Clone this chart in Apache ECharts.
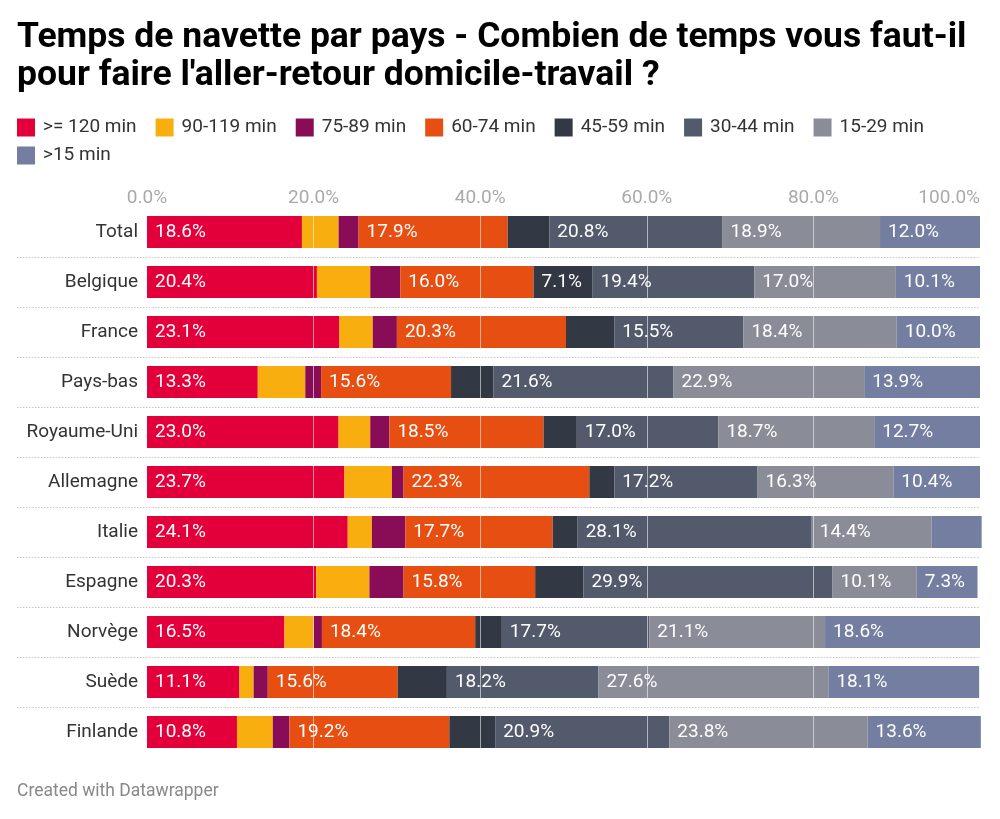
<!DOCTYPE html>
<html>
<head>
<meta charset="utf-8">
<script src="https://cdn.jsdelivr.net/npm/echarts@6.0.0/dist/echarts.min.js"></script>
<style>
html,body{margin:0;padding:0;background:#fff;}
#chart{width:1000px;height:819px;}
</style>
</head>
<body>
<div id="chart"></div>
<script>
const categories = ['Total','Belgique','France','Pays-bas','Royaume-Uni','Allemagne','Italie','Espagne','Norvège','Suède','Finlande'];
const seriesNames = ['>= 120 min','90-119 min','75-89 min','60-74 min','45-59 min','30-44 min','15-29 min','>15 min'];
const s120 = [18.6,20.4,23.1,13.3,23.0,23.7,24.1,20.3,16.5,11.1,10.8];
const s90  = [4.4,6.4,4.0,5.7,3.8,5.7,2.9,6.4,3.5,1.7,4.3];
const s75  = [2.4,3.6,2.9,1.9,2.3,1.4,4.0,4.1,1.0,1.7,2.0];
const s60  = [17.9,16.0,20.3,15.6,18.5,22.3,17.7,15.8,18.4,15.6,19.2];
const s45  = [5.0,7.1,5.8,5.1,4.0,3.0,3.0,5.8,3.2,5.9,5.5];
const s30  = [20.8,19.4,15.5,21.6,17.0,17.2,28.1,29.9,17.7,18.2,20.9];
const s15  = [18.9,17.0,18.4,22.9,18.7,16.3,14.4,10.1,21.1,27.6,23.8];
const sLt15 = [12.0,10.1,10.0,13.9,12.7,10.4,6.0,7.3,18.6,18.1,13.6];
const tickValues = [0,20,40,60,80,100];

const allData = [s120,s90,s75,s60,s45,s30,s15,sLt15];
const colors = ['#E3003A','#F9AE0F','#890C57','#E74F12','#333944','#525A6B','#8A8C98','#737EA0'];
const FONT = 'Roboto';

const chart = echarts.init(document.getElementById('chart'), null, {renderer:'canvas'});

const series = allData.map((d,i)=>({
  name: seriesNames[i],
  type: 'bar',
  stack: 'total',
  xAxisIndex: 0, yAxisIndex: 0,
  data: d,
  barWidth: 32,
  clip: false,
  itemStyle: {color: colors[i]},
  emphasis: {disabled: true},
  label: {
    show: true,
    position: 'insideLeft',
    distance: 8,
    color: '#fff',
    fontFamily: FONT,
    fontSize: 19,
    formatter: p => p.value >= 7 ? p.value.toFixed(1) + '%' : ''
  }
}));

const option = {
  animation: false,
  color: colors,
  textStyle: {fontFamily: FONT},
  title: [
    {
      text: 'Temps de navette par pays - Combien de temps vous faut-il\npour faire l\'aller-retour domicile-travail ?',
      left: 17, top: 19, padding: 0,
      textStyle: {fontFamily: FONT, fontSize: 35.5, fontWeight: 'bold', color: '#000', lineHeight: 38}
    },
    {
      text: 'Created with Datawrapper',
      left: 17, top: 783, padding: 0,
      textStyle: {fontFamily: FONT, fontSize: 17.5, fontWeight: 'normal', color: '#888'}
    }
  ],
  legend: [
    {
      data: seriesNames.slice(0,7),
      left: 17, top: 118, padding: 0,
      icon: 'rect', itemWidth: 18, itemHeight: 18, itemGap: 19,
      textStyle: {fontFamily: FONT, fontSize: 19, color: '#333', padding: [0,0,0,3]},
      selectedMode: false
    },
    {
      data: seriesNames.slice(7),
      left: 17, top: 146, padding: 0,
      icon: 'rect', itemWidth: 18, itemHeight: 18, itemGap: 19,
      textStyle: {fontFamily: FONT, fontSize: 19, color: '#333', padding: [0,0,0,3]},
      selectedMode: false
    }
  ],
  grid: [
    {left: 147, right: 20, top: 207, height: 550, containLabel: false},
    {left: 17, right: 20, top: 207, height: 550, containLabel: false}
  ],
  xAxis: [
    {
      type: 'value', gridIndex: 0, position: 'top',
      min: tickValues[0], max: tickValues[tickValues.length-1], interval: 20,
      z: 5,
      axisLine: {show: false}, axisTick: {show: false},
      axisLabel: {
        color: '#aaa', fontSize: 19, fontFamily: FONT, margin: -1,
        formatter: v => v.toFixed(1) + '%',
        alignMaxLabel: 'right'
      },
      splitLine: {show: true, showMinLine: false, showMaxLine: false, lineStyle: {color: 'rgba(255,255,255,0.55)', width: 1}}
    },
    {
      type: 'value', gridIndex: 1, min: 0, max: 1, show: false
    }
  ],
  yAxis: [
    {
      type: 'category', gridIndex: 0, data: categories, inverse: true,
      axisLine: {show: false}, axisTick: {show: false},
      axisLabel: {color: '#333', fontSize: 19, fontFamily: FONT, margin: 9},
      splitLine: {show: false}
    },
    {
      type: 'category', gridIndex: 1, data: categories, inverse: true,
      axisLine: {show: false}, axisTick: {show: false}, axisLabel: {show: false},
      splitLine: {show: true, showMinLine: false, showMaxLine: false, lineStyle: {color: '#c8c8c8', type: [1.5,1.5], width: 1}}
    }
  ],
  series: series
};
chart.setOption(option);
</script>
</body>
</html>
